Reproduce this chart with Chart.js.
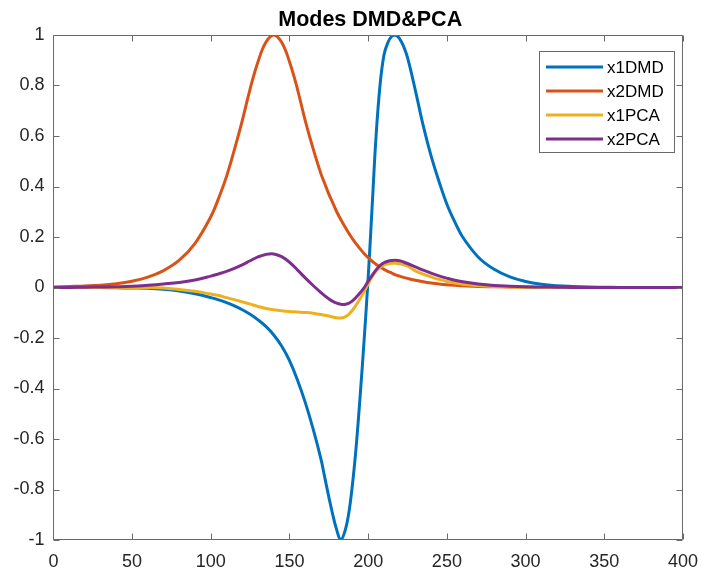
<!DOCTYPE html>
<html lang="en">
<head>
    <meta charset="UTF-8">
    <title>Modes DMD&amp;PCA</title>
    <style>
        body {
            margin: 0;
            background-color: #ffffff;
        }
        #modesChart {
            display: block;
        }
    </style>
</head>
<body>
    <canvas id="modesChart" width="709" height="575" style="width:709px;height:575px"></canvas>

    <script src="https://cdn.jsdelivr.net/npm/chart.js"></script>
    <script>
        // Sample positions (shared by all four modes)
        const xs = [0, 10, 20, 30, 40, 50, 60, 70, 80, 90, 100,
            105, 110, 115, 120, 125, 130, 135, 140, 145, 150, 155, 160, 165, 170,
            172.5, 175, 177.5, 180, 182.5, 185, 187.5, 190, 192.5, 195, 197.5, 200,
            202.5, 205, 207.5, 210, 212.5, 215, 217.5, 220, 222.5, 225,
            230, 235, 240, 245, 250, 255, 260,
            270, 280, 290, 300, 310, 320, 330, 340, 350, 360, 370, 380, 390, 400];

        const x1DMD = [0, 0, 0, 0, -0.001, -0.002, -0.003, -0.007, -0.014, -0.025, -0.04,
            -0.049, -0.06, -0.073, -0.088, -0.106, -0.128, -0.154, -0.188, -0.232, -0.29, -0.365, -0.455, -0.56, -0.68,
            -0.755, -0.83, -0.9, -0.96, -1.0, -0.97, -0.90, -0.78, -0.62, -0.42, -0.2, 0.04,
            0.32, 0.6, 0.8, 0.92, 0.97, 0.995, 1.0, 0.985, 0.955, 0.91,
            0.78, 0.64, 0.52, 0.42, 0.33, 0.26, 0.2,
            0.12, 0.072, 0.042, 0.024, 0.013, 0.007, 0.004, 0.002, 0.001, 0, 0, 0, 0, 0];

        const x2DMD = [0.002, 0.004, 0.006, 0.009, 0.015, 0.025, 0.041, 0.067, 0.108, 0.175, 0.280,
            0.354, 0.440, 0.546, 0.661, 0.787, 0.894, 0.971, 1.0, 0.971, 0.894, 0.787, 0.661, 0.55, 0.45,
            0.41, 0.37, 0.335, 0.30, 0.27, 0.243, 0.217, 0.193, 0.172, 0.152, 0.134, 0.118,
            0.104, 0.092, 0.081, 0.072, 0.064, 0.057, 0.05, 0.045, 0.04, 0.036,
            0.029, 0.023, 0.018, 0.014, 0.011, 0.009, 0.007,
            0.004, 0.003, 0.002, 0.001, 0, 0, 0, 0, 0, 0, 0, 0, 0, 0];

        const x1PCA = [0, 0, 0, 0, 0, 0, 0, -0.002, -0.008, -0.015, -0.026,
            -0.032, -0.04, -0.048, -0.057, -0.066, -0.075, -0.083, -0.088, -0.092, -0.095, -0.097, -0.099, -0.102, -0.107,
            -0.110, -0.113, -0.117, -0.120, -0.121, -0.117, -0.107, -0.09, -0.068, -0.043, -0.015, 0.015,
            0.043, 0.065, 0.08, 0.089, 0.094, 0.096, 0.096, 0.094, 0.09, 0.085,
            0.066, 0.053, 0.042, 0.032, 0.024, 0.018, 0.013,
            0.008, 0.004, 0.002, 0.001, 0, 0, 0, 0, 0, 0, 0, 0, 0, 0];

        const x2PCA = [0, 0, 0.001, 0.002, 0.003, 0.005, 0.009, 0.014, 0.02, 0.03, 0.045,
            0.054, 0.064, 0.076, 0.09, 0.106, 0.121, 0.131, 0.133, 0.122, 0.1, 0.07, 0.038, 0.008, -0.02,
            -0.033, -0.045, -0.055, -0.062, -0.066, -0.067, -0.063, -0.053, -0.038, -0.02, 0.0, 0.025,
            0.048, 0.07, 0.087, 0.098, 0.104, 0.107, 0.108, 0.106, 0.101, 0.095,
            0.082, 0.069, 0.057, 0.046, 0.037, 0.029, 0.023,
            0.014, 0.008, 0.005, 0.003, 0.002, 0.001, 0, 0, 0, 0, 0, 0, 0, 0];

        const seriesNames = ['x1DMD', 'x2DMD', 'x1PCA', 'x2PCA'];
        const xTicks = [0, 50, 100, 150, 200, 250, 300, 350, 400];
        const yTicks = [-1, -0.8, -0.6, -0.4, -0.2, 0, 0.2, 0.4, 0.6, 0.8, 1];
        const chartTitle = 'Modes DMD&PCA';

        const colors = ['#0072BD', '#D95319', '#EDB120', '#7E2F8E'];
        const seriesValues = [x1DMD, x2DMD, x1PCA, x2PCA];
        const fontFamily = '"Liberation Sans", Arial, Helvetica, sans-serif';

        // MATLAB style box with inward tick marks on all four sides, plus the title
        const boxPlugin = {
            id: 'boxTicks',
            afterDatasetsDraw(chart) {
                const ctx = chart.ctx;
                const a = chart.chartArea;
                const xs_ = chart.scales.x, ys_ = chart.scales.y;
                const L = Math.round(a.left) + 0.5, R = Math.round(a.right) - 0.5;
                const T = Math.round(a.top) + 0.5, B = Math.round(a.bottom) - 0.5;
                const len = 6;
                ctx.save();
                ctx.strokeStyle = '#6a6a6a';
                ctx.lineWidth = 1;
                ctx.beginPath();
                ctx.rect(L, T, R - L, B - T);
                xTicks.forEach(v => {
                    const px = Math.round(xs_.getPixelForValue(v)) + 0.5;
                    ctx.moveTo(px, B); ctx.lineTo(px, B - len);
                    ctx.moveTo(px, T); ctx.lineTo(px, T + len);
                });
                yTicks.forEach(v => {
                    const py = Math.round(ys_.getPixelForValue(v)) + 0.5;
                    ctx.moveTo(L, py); ctx.lineTo(L + len, py);
                    ctx.moveTo(R, py); ctx.lineTo(R - len, py);
                });
                ctx.stroke();

                ctx.fillStyle = '#000000';
                ctx.font = 'bold 21.5px ' + fontFamily;
                ctx.textAlign = 'center';
                ctx.textBaseline = 'alphabetic';
                ctx.fillText(chartTitle, (a.left + a.right) / 2 + 2, 26);
                ctx.restore();
            }
        };

        // Legend box in the upper right corner of the axes
        const legendPlugin = {
            id: 'insideLegend',
            afterDraw(chart) {
                const ctx = chart.ctx;
                const left = 539.5, top = 51.5, w = 135, h = 101;
                ctx.save();
                ctx.fillStyle = '#ffffff';
                ctx.fillRect(left, top, w, h);
                ctx.strokeStyle = '#6a6a6a';
                ctx.lineWidth = 1;
                ctx.strokeRect(left, top, w, h);
                ctx.font = '17px ' + fontFamily;
                ctx.textBaseline = 'middle';
                ctx.textAlign = 'left';
                chart.data.datasets.forEach((ds, i) => {
                    const y = 67 + i * 24;
                    ctx.strokeStyle = ds.borderColor;
                    ctx.lineWidth = 3;
                    ctx.beginPath();
                    ctx.moveTo(546, y);
                    ctx.lineTo(603, y);
                    ctx.stroke();
                    ctx.fillStyle = '#000000';
                    ctx.fillText(ds.label, 607, y + 1);
                });
                ctx.restore();
            }
        };

        const datasets = seriesNames.map((name, i) => ({
            label: name,
            data: xs.map((x, k) => ({ x: x, y: seriesValues[i][k] })),
            borderColor: colors[i],
            backgroundColor: colors[i],
            borderWidth: 3,
            pointRadius: 0,
            fill: false,
            tension: 0.4,
            order: 4 - i
        }));

        const tickFont = { family: fontFamily, size: 18 };

        const modesChart = new Chart(document.getElementById('modesChart').getContext('2d'), {
            type: 'line',
            data: { datasets: datasets },
            options: {
                responsive: false,
                animation: false,
                devicePixelRatio: 1,
                layout: { padding: { left: 0, right: 17, top: 35, bottom: 0 } },
                plugins: {
                    legend: { display: false },
                    tooltip: { enabled: false },
                    title: { display: false }
                },
                scales: {
                    x: {
                        type: 'linear',
                        min: 0,
                        max: 400,
                        afterBuildTicks: s => { s.ticks = xTicks.map(v => ({ value: v })); },
                        afterFit: s => { s.height = 35; },
                        grid: { display: false, drawTicks: false },
                        border: { display: false },
                        ticks: { padding: 11, color: '#262626', font: tickFont, maxRotation: 0, autoSkip: false, callback: v => String(v) }
                    },
                    y: {
                        min: -1,
                        max: 1,
                        afterBuildTicks: s => { s.ticks = yTicks.map(v => ({ value: v })); },
                        afterFit: s => { s.width = 53.4; },
                        grid: { display: false, drawTicks: false },
                        border: { display: false },
                        ticks: { padding: 9, color: '#262626', font: tickFont, autoSkip: false, callback: v => String(v) }
                    }
                }
            },
            plugins: [boxPlugin, legendPlugin]
        });
    </script>
</body>
</html>
